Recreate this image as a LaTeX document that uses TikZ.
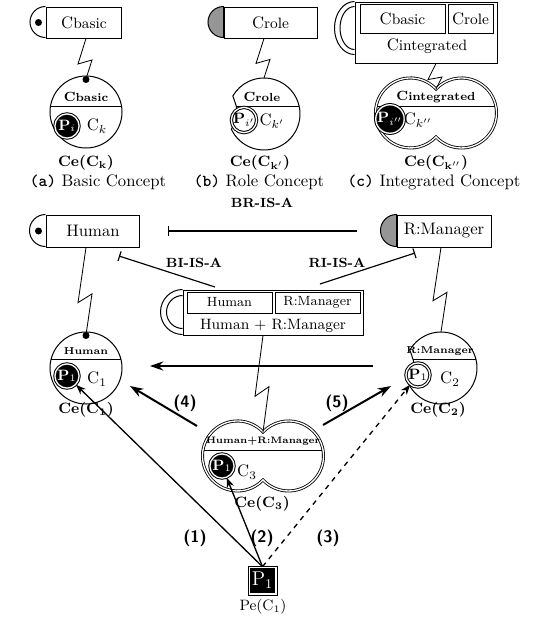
\documentclass[tikz,border=0pt]{standalone}
\usepackage{tikz}
\usetikzlibrary{arrows.meta, positioning, calc}
\definecolor{capgray}{RGB}{150,150,150}
\tikzset{
  cbox/.style={rectangle, draw, fill=white, inner sep=0pt, minimum width=56.4pt, minimum height=19.2pt},
  inbox/.style={rectangle, draw, fill=white, inner sep=0pt, minimum width=51pt, minimum height=12.6pt, font=\footnotesize},
  pblack/.style={circle, draw=black, fill=black, double=white, double distance=0.8pt, text=white, inner sep=0pt, minimum size=14.5pt, font=\small\bfseries},
  pwhite/.style={circle, draw, fill=white, double, double distance=0.8pt, inner sep=0pt, minimum size=14.5pt, font=\small\bfseries},
  lbl/.style={font=\small\bfseries},
  inlbl/.style={font=\bfseries\fontsize{6}{7}\selectfont},
  islbl/.style={font=\footnotesize\bfseries},
  num/.style={font=\sffamily\bfseries},
  bolt/.style={line width=0.5pt, to path={-- ($(\tikztostart)!0.63!(\tikztotarget)+(-8,0)$) -- ($(\tikztostart)!0.53!(\tikztotarget)+(6,0)$) -- (\tikztotarget)}},
  isa/.style={-{Bar[width=6pt]}, line width=0.7pt},
  arr/.style={-{Stealth[length=8pt, width=5.5pt]}, line width=1.2pt},
  parr/.style={-{Stealth[length=6pt, width=4.5pt]}, line width=0.8pt},
  % concept circles
  basicc/.pic={
    \begin{scope}
      \clip (0,0) circle (36);
      \draw (-36,#1) -- (36,#1);
    \end{scope}
    \draw (0,0) circle (36);
    \fill (0,32.5) circle (3.5);
    \coordinate (-top) at (0,33);
  },
  rolec/.pic={
    \begin{scope}
      \clip (205:36) arc[start angle=205, end angle=510, radius=36] .. controls (178:25) .. (205:36);
      \draw (-36,#1) -- (36,#1);
    \end{scope}
    \draw (205:36) arc[start angle=205, end angle=510, radius=36] .. controls (178:25) .. (205:36) -- cycle;
    \coordinate (-top) at (0,36);
  },
  peanut/.pic={
    \begin{scope}
      \clip (-25.5,0) circle (35) (25.5,0) circle (35);
      \draw (-61,#1) -- (61,#1);
    \end{scope}
    \draw[double, double distance=0.8pt, line width=0.5pt] (0,24) arc[start angle=43.2, end angle=316.8, radius=35] arc[start angle=223.2, end angle=496.8, radius=35] -- cycle;
    \coordinate (-top) at (0,24);
  }
}
\begin{document}
\begin{tikzpicture}[x=0.6pt, y=0.6pt, line width=0.6pt]
\useasboundingbox (0,0) rectangle (541,-619);

%--- (a) basic concept ---
\node[cbox, minimum width=45.6pt, minimum height=18.6pt] (ba) at (84,-22.5) {C{\small basic}};
\draw (ba.north west) arc[start angle=90, end angle=270, radius=15.5];
\fill ($(ba.west)+(-7,0)$) circle (3.5);
\pic (ca) at (86,-112) {basicc=6};
\node[font=\footnotesize\bfseries] (ta) at (86,-97) {C{\scriptsize basic}};
\node[pblack] (pa) at (67,-126) {P$_i$};
\node (ka) at (97,-126) {C$_k$};
\node[lbl] (cea) at (86,-163) {Ce(C$_\mathbf{k}$)};
\node (capa) at (98,-182) {\texttt{\textbf{(a)}} Basic Concept};
\draw[bolt] (ba.south -| ca-top) to (ca-top);

%--- (b) role concept ---
\node[cbox, minimum width=55.8pt, minimum height=18.6pt] (bb) at (270.5,-22.5) {C{\small role}};
\filldraw[fill=capgray] (bb.north west) arc[start angle=90, end angle=270, radius=15.5] -- cycle;
\pic (cb) at (264,-114) {rolec=8};
\node[font=\footnotesize\bfseries] (tb) at (262,-97) {C{\scriptsize role}};
\node[pwhite] (pb) at (244,-120) {P$_{i'}$};
\node (kb) at (272,-121) {C$_{k'}$};
\node[lbl] (ceb) at (260,-163) {Ce(C$_{\mathbf{k'}}$)};
\node (capb) at (259,-182) {\texttt{\textbf{(b)}} Role Concept};
\draw[bolt] (bb.south -| cb-top) to (cb-top);

%--- (c) integrated concept ---
\node[cbox, minimum width=85.2pt, minimum height=36.6pt] (bc) at (426,-32.5) {};
\draw (bc.north west) arc[start angle=90, end angle=270, x radius=20, y radius=26.5];
\draw ($(bc.north west)+(0,-5)$) arc[start angle=90, end angle=270, x radius=14.5, y radius=21.5];
\node[cbox, minimum width=51pt, minimum height=17.4pt] (bcb) at (402.5,-18.5) {C{\small basic}};
\node[cbox, minimum width=27pt, minimum height=17.4pt] (bcr) at (470.5,-18.5) {C{\small role}};
\node (bct) at (427,-46) {C{\small integrated}};
\pic (cc) at (436,-113) {peanut=7};
\node[font=\footnotesize\bfseries] (tc) at (436,-97) {C{\scriptsize integrated}};
\node[pblack] (pc) at (390,-119) {P$_{i''}$};
\node (kc) at (418,-120) {C$_{k''}$};
\node[lbl] (cec) at (436,-163) {Ce(C$_{\mathbf{k''}}$)};
\node (capc) at (434,-182) {\texttt{\textbf{(c)}} Integrated Concept};
\draw[bolt] (bc.south -| cc-top) to (cc-top);

%--- example: boxes ---
\node[cbox] (hb) at (93,-231) {Human};
\draw (hb.north west) arc[start angle=90, end angle=270, radius=16];
\fill ($(hb.west)+(-7,0)$) circle (3.5);
\node[cbox] (rb) at (444,-231) {R:Manager};
\filldraw[fill=capgray] (rb.north west) arc[start angle=90, end angle=270, radius=16] -- cycle;
\node[cbox, minimum width=108pt, minimum height=27pt] (ib) at (273,-312.5) {};
\draw (ib.north west) arc[start angle=90, end angle=270, x radius=22, y radius=22.5];
\draw ($(ib.north west)+(0,-6)$) arc[start angle=90, end angle=270, x radius=16, y radius=16.5];
\node[inbox] (ibh) at (229.5,-302.5) {Human};
\node[inbox] (ibr) at (317.5,-302.5) {R:Manager};
\node[font=\small] (ibt) at (273,-326) {Human + R:Manager};

%--- IS-A links ---
\coordinate (brs) at (357,-231);
\coordinate (bre) at (168,-231);
\coordinate (bis) at (215,-287);
\coordinate (bie) at (119,-256);
\coordinate (ris) at (320,-284);
\coordinate (rie) at (415,-253);
\draw[isa] (brs) -- (bre);
\draw[isa] (bis) -- (bie);
\draw[isa] (ris) -- (rie);
\node[islbl] (brl) at (262,-203) {BR-IS-A};
\node[islbl] (bil) at (194,-263) {BI-IS-A};
\node[islbl] (ril) at (337,-263) {RI-IS-A};

%--- example: concept entities ---
\pic (c1) at (86,-368) {basicc=9};
\node[inlbl] (t1) at (86,-351) {Human};
\node[pblack] (p1) at (67,-376) {P$_1$};
\node (k1) at (97,-379) {C$_1$};
\node[lbl] (ce1) at (86,-410) {Ce(C$_\mathbf{1}$)};
\draw[bolt] (hb.south -| c1-top) to (c1-top);

\pic (c2) at (441,-368) {rolec=9};
\node[inlbl] (t2) at (440,-351) {R:Manager};
\node[pwhite] (p2) at (418,-375) {P$_1$};
\node (k2) at (450,-379) {C$_2$};
\node[lbl] (ce2) at (438,-410) {Ce(C$_\mathbf{2}$)};
\draw[bolt] (rb.south -| c2-top) to (c2-top);

\pic (c3) at (263,-456) {peanut=6};
\node[inlbl, font=\bfseries\fontsize{5.6}{7}\selectfont] (t3) at (263,-441) {Human+R:Manager};
\node[pblack] (p3) at (222,-466) {P$_1$};
\node (k3) at (247,-472) {C$_3$};
\node[lbl] (ce3) at (262,-504) {Ce(C$_\mathbf{3}$)};
\draw[bolt] (ib.south -| c3-top) to (c3-top);

%--- role/basic transitions ---
\coordinate (hls) at (373,-366);
\coordinate (hle) at (150,-366);
\coordinate (a4s) at (197,-426);
\coordinate (a4e) at (130,-386);
\coordinate (a5s) at (323,-425);
\coordinate (a5e) at (391,-386);
\draw[arr] (hls) -- (hle);
\draw[arr] (a4s) -- (a4e);
\draw[arr] (a5s) -- (a5e);
\node[num] (n4) at (185,-403) {(4)};
\node[num] (n5) at (337,-403) {(5)};

%--- physical entity ---
\node[rectangle, draw=black, fill=black, double=white, double distance=0.8pt, text=white, inner sep=0pt, minimum size=16pt, font=\large] (psq) at (262.5,-580.5) {P$_1$};
\node[font=\small] (pe) at (263,-607) {Pe(C$_1$)};
\draw[parr] (psq.north) -- (p1);
\draw[parr] (psq.north) -- (p3);
\draw[parr, dashed] (psq.north) -- (p2);
\node[num] (n1) at (195,-538) {(1)};
\node[num] (n2) at (262,-538) {(2)};
\node[num] (n3) at (328,-538) {(3)};
\end{tikzpicture}
\end{document}
